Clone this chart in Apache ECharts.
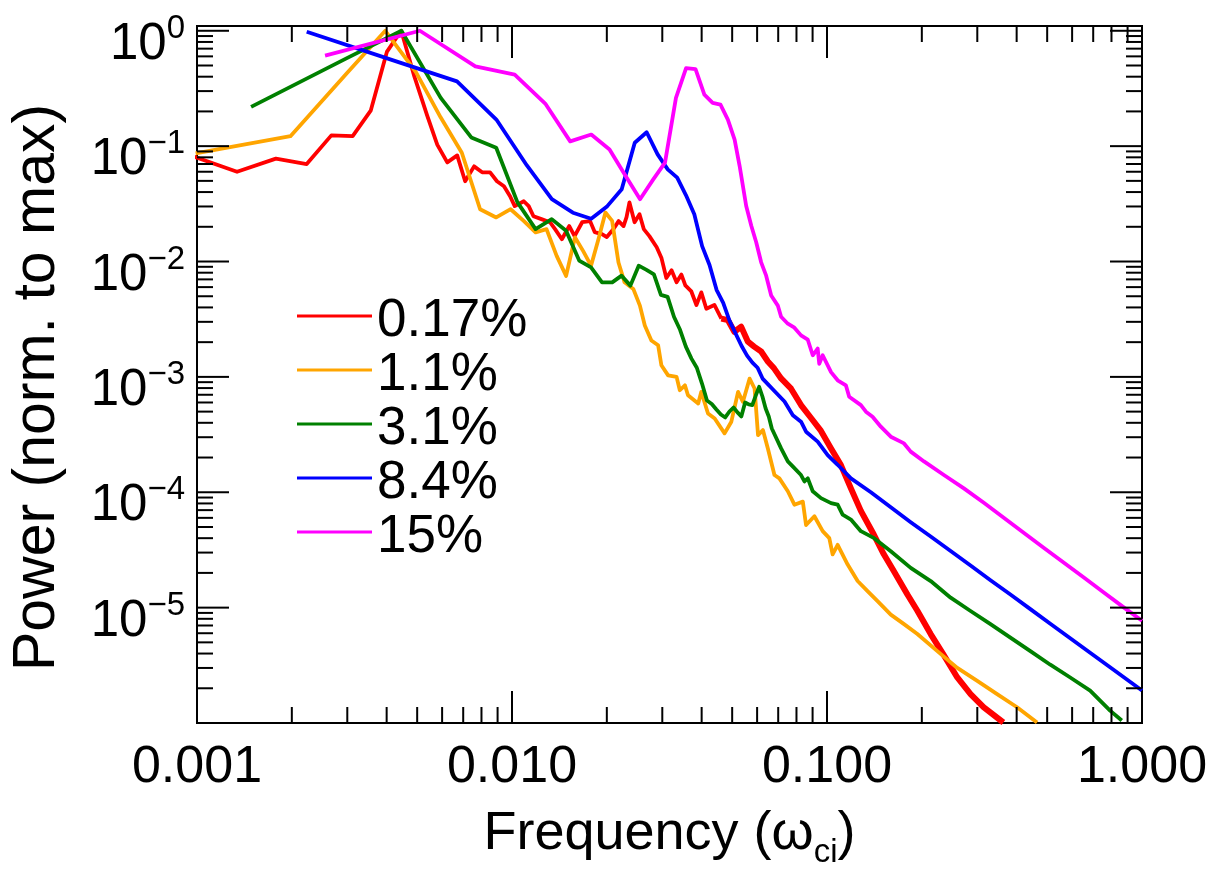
<!DOCTYPE html>
<html>
<head>
<meta charset="utf-8">
<script src="https://cdn.jsdelivr.net/npm/echarts@6/dist/echarts.min.js"></script>
<style>
  html, body { margin: 0; padding: 0; background: #ffffff; }
  #chart { width: 1222px; height: 874px; }
</style>
</head>
<body>
<div id="chart"></div>
<script>
// Axis ranges and tick values
const X_MIN = 0.001, X_MAX = 1;
const Y_MIN = 1e-6, Y_MAX = 1.1;
const xMajorTicks = [0.001, 0.01, 0.1, 1];
const xMinorTicks = [0.002, 0.003, 0.004, 0.005, 0.006, 0.007, 0.008, 0.009,
                     0.02, 0.03, 0.04, 0.05, 0.06, 0.07, 0.08, 0.09,
                     0.2, 0.3, 0.4, 0.5, 0.6, 0.7, 0.8, 0.9];
const yMajorTicks = [1e-6, 1e-5, 1e-4, 1e-3, 1e-2, 1e-1, 1];
const yMinorTicks = [2e-6, 3e-6, 4e-6, 5e-6, 6e-6, 7e-6, 8e-6, 9e-6,
                     2e-5, 3e-5, 4e-5, 5e-5, 6e-5, 7e-5, 8e-5, 9e-5,
                     2e-4, 3e-4, 4e-4, 5e-4, 6e-4, 7e-4, 8e-4, 9e-4,
                     2e-3, 3e-3, 4e-3, 5e-3, 6e-3, 7e-3, 8e-3, 9e-3,
                     2e-2, 3e-2, 4e-2, 5e-2, 6e-2, 7e-2, 8e-2, 9e-2,
                     0.2, 0.3, 0.4, 0.5, 0.6, 0.7, 0.8, 0.9];

const seriesNames = ['0.17%', '1.1%', '3.1%', '8.4%', '15%'];
const seriesColors = ['#ff0000', '#ffa500', '#008000', '#0000ff', '#ff00ff'];

// 0.17%
const redFreq = [0.00089, 0.00134, 0.00178, 0.00223, 0.00267, 0.00312, 0.00356, 0.00401, 0.00445,
  0.0049, 0.00538, 0.00579, 0.00623, 0.0067, 0.0071, 0.00758, 0.00804, 0.00852, 0.00896, 0.00943,
  0.00986, 0.0102, 0.0109, 0.0113, 0.0117, 0.0124, 0.0132, 0.0137, 0.0144, 0.0152, 0.0158, 0.0167,
  0.0177, 0.0183, 0.0193, 0.0200, 0.0210, 0.0218, 0.0226, 0.0231, 0.0236, 0.0245, 0.0254, 0.0262,
  0.0273, 0.0288, 0.0298, 0.0309, 0.0321, 0.0333, 0.0345, 0.0355, 0.0371, 0.0385, 0.0399, 0.0414,
  0.0439, 0.0462, 0.0485, 0.0508, 0.0534, 0.0561, 0.0587, 0.0618, 0.0649, 0.068, 0.0715, 0.0769,
  0.0827, 0.089, 0.0957, 0.103, 0.1107, 0.1191, 0.1281, 0.1408, 0.1515, 0.1629, 0.18, 0.1936,
  0.2134, 0.2346, 0.2592, 0.2856, 0.314, 0.363];
const redPower = [0.089, 0.060, 0.078, 0.070, 0.124, 0.122, 0.203, 0.66, 1.0,
  0.40, 0.184, 0.103, 0.0723, 0.0831, 0.0496, 0.0668, 0.0593, 0.0593, 0.0496, 0.0449,
  0.0368, 0.0302, 0.0333, 0.0302, 0.0247, 0.0233, 0.0219, 0.0191, 0.0156, 0.0203, 0.0166, 0.0219,
  0.0224, 0.0180, 0.0173, 0.0163, 0.0191, 0.0224, 0.0203, 0.0242, 0.0325, 0.0219, 0.0257, 0.0191,
  0.0166, 0.0133, 0.0108, 0.0072, 0.0084, 0.0066, 0.0077, 0.0062, 0.0055, 0.0042, 0.0054, 0.0039,
  0.0042, 0.0032, 0.0031, 0.00246, 0.00272, 0.00202, 0.00183, 0.00166, 0.00136, 0.00118, 0.00097, 0.00079,
  0.00057, 0.00044, 0.00034, 0.00024, 0.000172, 0.000108, 6.9e-5, 4.3e-5, 2.9e-5, 2.08e-5, 1.3e-5, 9.4e-6,
  5.9e-6, 3.9e-6, 2.48e-6, 1.78e-6, 1.37e-6, 1.01e-6];
// above this frequency the 0.17% spectrum is a dense, fast-alternating band
const RED_BAND_FROM = 0.0462;

// 1.1%
const orangeFreq = [0.00099, 0.00198, 0.00297, 0.00396, 0.00495, 0.00594, 0.00693, 0.00792, 0.00891,
  0.0099, 0.01089, 0.01188, 0.01287, 0.01386, 0.01485, 0.01584, 0.01683, 0.01782, 0.01881, 0.0198,
  0.02079, 0.02178, 0.02277, 0.02427, 0.02547, 0.0264, 0.0277, 0.0291, 0.0298, 0.0313, 0.0333,
  0.0341, 0.0354, 0.0362, 0.0390, 0.0399, 0.0419, 0.0440, 0.0473, 0.0497, 0.0522, 0.0541, 0.0568,
  0.0589, 0.0604, 0.0626, 0.0649, 0.0681, 0.0706, 0.0751, 0.0788, 0.0838, 0.0858, 0.0912, 0.0969,
  0.1017, 0.1042, 0.1081, 0.1163, 0.1251, 0.1345, 0.1447, 0.1594, 0.1756, 0.1936, 0.224, 0.2592,
  0.2999, 0.3468, 0.4012, 0.4643];
const orangePower = [0.0865, 0.122, 0.42, 1.0, 0.44, 0.177, 0.0877, 0.0284, 0.0241,
  0.0284, 0.0225, 0.0179, 0.0191, 0.0112, 0.0075, 0.0162, 0.0123, 0.0092, 0.0156, 0.0266,
  0.0225, 0.0098, 0.0066, 0.00579, 0.00415, 0.00279, 0.00207, 0.00188, 0.00126, 0.00103, 0.00100,
  0.000766, 0.000846, 0.000693, 0.000588, 0.000742, 0.000482, 0.000436, 0.000324, 0.000409, 0.000742, 0.000608, 0.000967,
  0.000793, 0.000313, 0.000346, 0.00024, 0.000141, 0.000132, 0.000102, 7.8e-5, 8.3e-5, 5.2e-5, 6.2e-5, 4.6e-5,
  4.0e-5, 2.9e-5, 3.5e-5, 2.36e-5, 1.7e-5, 1.39e-5, 1.14e-5, 8.7e-6, 7.2e-6, 5.9e-6, 4.2e-6, 3.0e-6,
  2.32e-6, 1.78e-6, 1.37e-6, 1.01e-6];

// 3.1%
const greenFreq = [0.001485, 0.00297, 0.004455, 0.00594, 0.007425, 0.00891, 0.0104, 0.01188, 0.01337,
  0.01485, 0.01634, 0.01782, 0.01931, 0.0208, 0.02228, 0.02376, 0.02525, 0.02673, 0.02822, 0.0297,
  0.03119, 0.03267, 0.03416, 0.03564, 0.03713, 0.03861, 0.0401, 0.04158, 0.04307, 0.04455, 0.04604,
  0.04752, 0.04901, 0.0505, 0.05198, 0.05346, 0.05495, 0.05643, 0.05792, 0.0594, 0.06089, 0.06237,
  0.06386, 0.06534, 0.0668, 0.0715, 0.0751, 0.0788, 0.0827, 0.0848, 0.0869, 0.0901, 0.0957, 0.103,
  0.1081, 0.1121, 0.1191, 0.1281, 0.1411, 0.1594, 0.1844, 0.2134, 0.2469, 0.2856, 0.3304, 0.3822,
  0.4422, 0.5116, 0.5918, 0.6845, 0.792, 0.8626];
const greenPower = [0.219, 0.574, 1.0, 0.262, 0.119, 0.0969, 0.0327, 0.0191, 0.0233,
  0.0185, 0.0102, 0.0089, 0.0066, 0.0066, 0.00754, 0.00618, 0.0092, 0.00845, 0.00773, 0.00514,
  0.00494, 0.00332, 0.00256, 0.00183, 0.00144, 0.0012, 0.000875, 0.000624, 0.000582, 0.000522, 0.000472,
  0.000445, 0.000501, 0.000543, 0.000492, 0.000454, 0.0006, 0.000577, 0.00057, 0.000689, 0.00082, 0.000676,
  0.000532, 0.000454, 0.000357, 0.00024, 0.000185, 0.000162, 0.000141, 0.000124, 0.000132, 0.000102, 8.9e-5, 8.05e-5,
  7.8e-5, 6.4e-5, 5.8e-5, 4.6e-5, 4.0e-5, 3.08e-5, 2.21e-5, 1.7e-5, 1.22e-5, 9.35e-6, 7.2e-6, 5.5e-6,
  4.2e-6, 3.2e-6, 2.48e-6, 1.91e-6, 1.28e-6, 1.05e-6];

// 8.4%
const blueFreq = [0.00223, 0.00446, 0.00669, 0.00892, 0.01115, 0.01338, 0.01561, 0.01784, 0.02007,
  0.0223, 0.02453, 0.02676, 0.02899, 0.03122, 0.03345, 0.03568, 0.03791, 0.04014, 0.04237, 0.0446,
  0.04683, 0.04906, 0.05129, 0.05352, 0.05575, 0.05798, 0.06021, 0.06244, 0.06467, 0.0669, 0.0733,
  0.0779, 0.0827, 0.0858, 0.0934, 0.1005, 0.1081, 0.1191, 0.1378, 0.1594, 0.1844, 0.2134, 0.2469,
  0.2856, 0.3304, 0.3822, 0.4422, 0.5116, 0.5918, 0.6845, 0.792, 1.0];
const bluePower = [0.98, 0.524, 0.364, 0.170, 0.068, 0.0347, 0.0265, 0.0235, 0.0302,
  0.0423, 0.107, 0.132, 0.0848, 0.0629, 0.0533, 0.0375, 0.0257, 0.0136, 0.00933, 0.00568,
  0.00438, 0.00306, 0.00237, 0.00186, 0.00153, 0.00133, 0.0012, 0.000967, 0.000875, 0.000792, 0.000612,
  0.000466, 0.000409, 0.000335, 0.000275, 0.00021, 0.000173, 0.000132, 1.0e-4, 7.4e-5, 5.5e-5, 4.14e-5, 3.1e-5,
  2.32e-5, 1.73e-5, 1.3e-5, 9.7e-6, 7.26e-6, 5.43e-6, 4.06e-6, 3.04e-6, 1.91e-6];

// 15%
const magentaFreq = [0.00255, 0.0051, 0.00765, 0.0102, 0.01275, 0.0153, 0.01785, 0.0204, 0.02295,
  0.0255, 0.02805, 0.0306, 0.03315, 0.0357, 0.03825, 0.0408, 0.04335, 0.0459, 0.04845, 0.0509,
  0.0528, 0.0554, 0.0575, 0.0596, 0.0618, 0.0641, 0.0665, 0.0698, 0.0715, 0.0751, 0.0788, 0.0827,
  0.0869, 0.0901, 0.0934, 0.0945, 0.0969, 0.103, 0.1081, 0.1148, 0.1176, 0.1281, 0.1329, 0.1395,
  0.1482, 0.1594, 0.1756, 0.1844, 0.2032, 0.235, 0.272, 0.3147, 0.364, 0.4211, 0.4873, 0.5637,
  0.6521, 0.7545, 0.8727, 1.0];
const magentaPower = [0.61, 1.0, 0.491, 0.416, 0.234, 0.110, 0.126, 0.0937, 0.0551,
  0.0347, 0.0513, 0.0719, 0.262, 0.475, 0.466, 0.280, 0.237, 0.229, 0.170, 0.114,
  0.0672, 0.0303, 0.0204, 0.0147, 0.00984, 0.00754, 0.00507, 0.00415, 0.00332, 0.00289, 0.00267, 0.00229,
  0.0021, 0.00154, 0.00176, 0.0013, 0.00154, 0.0011, 0.000935, 0.000846, 0.000672, 0.000569, 0.000499, 0.000452,
  0.00037, 0.000303, 0.000265, 0.000225, 0.000185, 0.000141, 0.000108, 8.1e-5, 6.0e-5, 4.46e-5, 3.31e-5, 2.46e-5,
  1.83e-5, 1.36e-5, 1.01e-5, 7.7e-6];

const seriesFreq = [redFreq, orangeFreq, greenFreq, blueFreq, magentaFreq];
const seriesPower = [redPower, orangePower, greenPower, bluePower, magentaPower];

const FONT = "'Liberation Sans', Arial, Helvetica, sans-serif";
const MAJOR_LEN = 32, MINOR_LEN = 16, TICK_W = 2;
const LINE_W = 3.8, BAND_W = 6;

// Tick marks drawn inward on all four sides of the frame
function xTickSeries(values, len) {
  return {
    type: 'custom', silent: true, z: 5, clip: false,
    data: values.map(v => [v, Y_MIN]),
    renderItem: (params, api) => {
      const cs = params.coordSys;
      const px = api.coord([api.value(0), api.value(1)])[0];
      const bottom = cs.y + cs.height, top = cs.y;
      const st = { stroke: '#000', lineWidth: TICK_W };
      return { type: 'group', children: [
        { type: 'line', shape: { x1: px, y1: bottom, x2: px, y2: bottom - len }, style: st },
        { type: 'line', shape: { x1: px, y1: top, x2: px, y2: top + len }, style: st }
      ]};
    }
  };
}
function yTickSeries(values, len) {
  return {
    type: 'custom', silent: true, z: 5, clip: false,
    data: values.map(v => [X_MIN, v]),
    renderItem: (params, api) => {
      const cs = params.coordSys;
      const py = api.coord([api.value(0), api.value(1)])[1];
      const left = cs.x, right = cs.x + cs.width;
      const st = { stroke: '#000', lineWidth: TICK_W };
      return { type: 'group', children: [
        { type: 'line', shape: { x1: left, y1: py, x2: left + len, y2: py }, style: st },
        { type: 'line', shape: { x1: right, y1: py, x2: right - len, y2: py }, style: st }
      ]};
    }
  };
}

function makeLine(name, color, pts, width, z) {
  return {
    name: name,
    type: 'line',
    data: pts,
    showSymbol: false,
    symbol: 'none',
    clip: true,
    color: color,
    lineStyle: { color: color, width: width, join: 'round' },
    z: z
  };
}

const lineSeries = [];
seriesNames.forEach((name, i) => {
  const pts = seriesFreq[i].map((f, k) => [f, seriesPower[i][k]]);
  if (i === 0) {
    // the 0.17% curve: thin at low frequency, wide noisy band above RED_BAND_FROM
    lineSeries.push(makeLine(name, seriesColors[i], pts.filter(p => p[0] <= RED_BAND_FROM), LINE_W, 2));
    lineSeries.push(makeLine(name, seriesColors[i], pts.filter(p => p[0] >= RED_BAND_FROM), BAND_W, 2));
  } else {
    lineSeries.push(makeLine(name, seriesColors[i], pts, LINE_W, 2 + i * 0.01));
  }
});

const chart = echarts.init(document.getElementById('chart'), null, { renderer: 'canvas' });
chart.setOption({
  animation: false,
  backgroundColor: '#ffffff',
  grid: {
    left: 194, top: 26, width: 948, height: 699,
    show: true, borderColor: '#000', borderWidth: 2, backgroundColor: 'transparent'
  },
  legend: {
    data: seriesNames,
    orient: 'vertical',
    left: 297, top: 294,
    padding: 0,
    itemGap: 0,
    icon: 'rect',
    itemWidth: 75,
    itemHeight: 3,
    selectedMode: false,
    // a short empty spacer line above each label lowers the text below its colour bar
    formatter: '{e|}\n{t|{name}}',
    textStyle: {
      rich: {
        e: { fontSize: 1, lineHeight: 11 },
        t: { fontFamily: FONT, fontSize: 53, color: '#000', lineHeight: 43 }
      }
    }
  },
  xAxis: {
    type: 'log', logBase: 10, min: X_MIN, max: X_MAX, splitNumber: 3,
    axisLine: { show: false },
    axisTick: { show: false },
    splitLine: { show: false },
    axisLabel: {
      margin: 19,
      fontFamily: FONT, fontSize: 52, color: '#000',
      formatter: v => {
        const e = Math.log10(v);
        return Math.abs(e - Math.round(e)) < 1e-6 ? v.toFixed(3) : '';
      }
    },
    name: '{a|Frequency (\u03c9}{s|ci}{a|)}',
    nameLocation: 'middle',
    nameGap: 77,
    nameTextStyle: {
      rich: {
        a: { fontFamily: FONT, fontSize: 54, color: '#000' },
        s: { fontFamily: FONT, fontSize: 33, color: '#000', padding: [36, 0, 0, 0] }
      }
    }
  },
  yAxis: {
    type: 'log', logBase: 10, min: Y_MIN, max: Y_MAX, splitNumber: 6,
    axisLine: { show: false },
    axisTick: { show: false },
    splitLine: { show: false },
    axisLabel: {
      margin: 12,
      color: '#000',
      formatter: v => {
        const l = Math.log10(v), e = Math.round(l);
        if (Math.abs(l - e) > 1e-6 || e < -5) return '';
        return '{b|10}{s|' + (e === 0 ? '0' : '\u2212' + (-e)) + '}';
      },
      rich: {
        b: { fontFamily: FONT, fontSize: 51, color: '#000', padding: [28, 0, 0, 0] },
        s: { fontFamily: FONT, fontSize: 33, color: '#000', padding: [0, 0, 4, 0] }
      }
    },
    name: 'Power (norm. to max)',
    nameLocation: 'middle',
    nameRotate: 90,
    nameGap: 130,
    nameTextStyle: { fontFamily: FONT, fontSize: 59, color: '#000', padding: [0, 26, 0, 0] }
  },
  series: lineSeries.concat([
    xTickSeries(xMajorTicks, MAJOR_LEN),
    xTickSeries(xMinorTicks, MINOR_LEN),
    yTickSeries(yMajorTicks, MAJOR_LEN),
    yTickSeries(yMinorTicks, MINOR_LEN)
  ])
});
</script>
</body>
</html>
